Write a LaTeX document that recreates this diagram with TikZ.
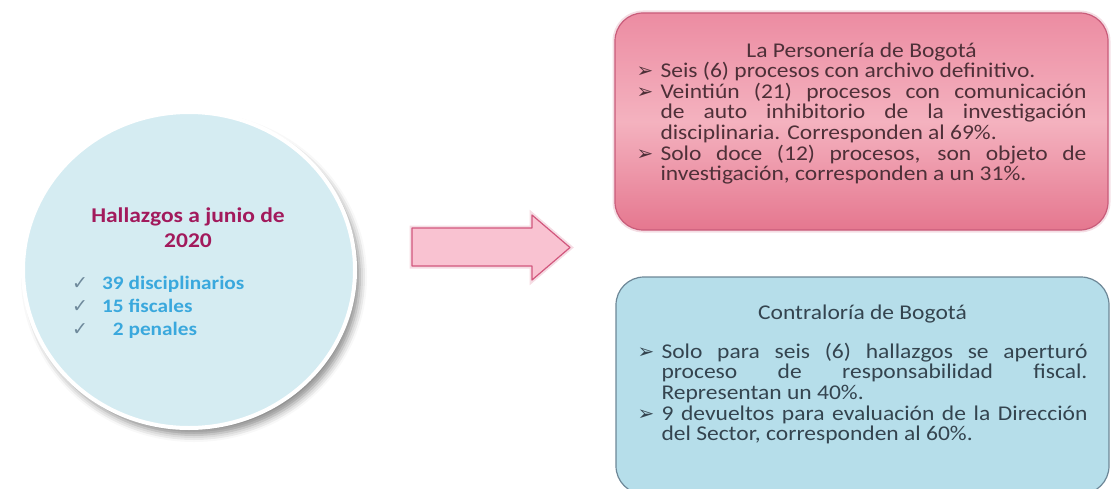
\documentclass[tikz,border=0pt]{standalone}
\usepackage{fontspec}
\setmainfont{Carlito}[FakeStretch=1.12]
\newfontfamily\symfont{DejaVu Sans}
\usetikzlibrary{positioning,shapes.geometric,shadows.blur}
\tolerance=9999

\definecolor{circfill}{HTML}{D5ECF2}
\definecolor{titlecol}{HTML}{A21A5C}
\definecolor{listcol}{HTML}{3AA8DD}
\definecolor{checkcol}{HTML}{6F8A9C}
\definecolor{pinktop}{HTML}{EC8CA2}
\definecolor{pinkmid}{HTML}{F4B2BF}
\definecolor{pinkbot}{HTML}{E5778F}
\definecolor{pinkedge}{HTML}{C95C7A}
\definecolor{pinktxt}{HTML}{4E3038}
\definecolor{bluefill}{HTML}{B6DEEA}
\definecolor{blueedge}{HTML}{6D8797}
\definecolor{bluetxt}{HTML}{34444F}
\definecolor{arrowfill}{HTML}{F9C2D1}
\definecolor{arrowedge}{HTML}{D2577D}

\newcommand{\punto}{\par\hangindent=24pt\hangafter=1\noindent\makebox[24pt][l]{\symfont\fontsize{20}{20}\selectfont ➢}}
\newcommand{\visto}{\makebox[30pt][l]{\symfont\color{checkcol}\fontsize{19}{19}\selectfont ✓}}

\begin{document}
\begin{tikzpicture}[x=1pt,y=-1pt,
    main circle/.style={ellipse,draw=white,line width=4pt,fill=circfill,minimum width=332pt,minimum height=316pt,
        blur shadow={shadow xshift=5pt,shadow yshift=-7pt,shadow opacity=45,shadow blur radius=7pt}},
    box/.style={rectangle,rounded corners=28pt,minimum width=493pt,minimum height=217pt,line width=1.2pt},
    box text/.style={text width=450pt,align=justify,inner sep=0pt,font=\fontsize{21}{20.6}\selectfont}]
    \useasboundingbox (0,0) rectangle (1118,489);

    \node[box,draw=pinkedge,top color=pinktop,bottom color=pinkbot,middle color=pinkmid,
        preaction={draw=pinkedge!40,line width=5pt,opacity=.5}] (pers) at (861.5,121.5) {};
    \node[box text,text=pinktxt] (perstxt) at ([yshift=8pt]pers.center) {%
        \makebox[\linewidth][c]{La Personería de Bogotá}\par
        \punto Seis (6) procesos con archivo definitivo.
        \punto Veintiún (21) procesos con comunicación\linebreak de auto inhibitorio de la investigación\linebreak disciplinaria. Corresponden al 69\%.
        \punto Solo doce (12) procesos, son objeto de\linebreak investigación, corresponden a un 31\%.\par};

    \node[box,draw=blueedge,fill=bluefill] (contr) at (862.5,385.5) {};
    \node[box text,text=bluetxt] (contrtxt) at ([yshift=11pt]contr.center) {%
        \makebox[\linewidth][c]{Contraloría de Bogotá}\par\vspace{18pt}
        \punto Solo para seis (6) hallazgos se aperturó\linebreak proceso de responsabilidad fiscal.\linebreak Representan un 40\%.
        \punto 9 devueltos para evaluación de la Dirección\linebreak del Sector, corresponden al 60\%.\par};

    \draw[draw=arrowedge,fill=arrowfill,line width=1.2pt,line join=round,
        preaction={draw=arrowedge!35,line width=5pt,opacity=.6}]
        (412,228) -- (532,228) -- (532,215) -- (570,247.5) -- (532,280) -- (532,266) -- (412,266) -- cycle;

    \node[main circle] (hall) at (189,270) {};
    \node[align=center,inner sep=0pt,text=titlecol,font=\bfseries\fontsize{21}{25}\selectfont] (ttl) at (188,228) {Hallazgos a junio de\\2020};
    \node[align=left,inner sep=0pt,anchor=north west,text=listcol,font=\bfseries\fontsize{19}{23}\selectfont] (lst) at (72,276)
        {\visto 39 disciplinarios\\ \visto 15 fiscales\\ \visto\phantom{1}2 penales};
\end{tikzpicture}
\end{document}
